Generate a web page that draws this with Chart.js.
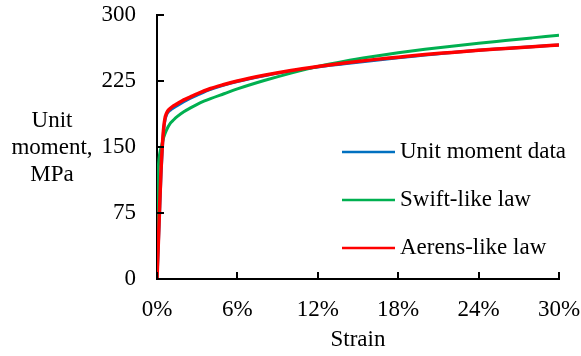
<!DOCTYPE html>
<html>
<head>
<meta charset="utf-8">
<script src="https://cdn.jsdelivr.net/npm/chart.js@4/dist/chart.umd.min.js"></script>
<style>
  html, body { margin: 0; padding: 0; background: #fff; }
  #wrap { width: 581px; height: 356px; position: relative; }
</style>
</head>
<body>
<div id="wrap"><canvas id="momentChart"></canvas></div>
<script>
// strain in %, unit moment in MPa
const dataStrain = [0, 0.1, 0.2, 0.3, 0.4, 0.5, 0.6, 0.7, 0.8, 1.0, 1.25, 1.5, 2, 2.5, 3, 4, 5, 6, 8, 10, 12, 14, 16, 18, 20, 22, 24, 26, 28, 30];
const dataMoment = [0, 38, 78, 118, 148, 170, 181, 186, 189, 192, 194.5, 197, 201.5, 205.5, 209, 215.5, 220.5, 224.5, 231, 236.5, 241, 244.5, 248, 251.5, 254.5, 257.5, 260, 262, 264, 266];

const swiftStrain = [0, 0.02, 0.05, 0.1, 0.2, 0.35, 0.5, 0.7, 1.0, 1.25, 1.5, 2, 2.5, 3, 3.5, 4, 5, 6, 8, 10, 12, 14, 16, 18, 20, 22, 24, 26, 28, 30];
const swiftMoment = [0, 60, 110, 128, 142, 152, 161, 169, 177, 181, 184.5, 190, 194.5, 198.5, 202, 205, 210.5, 216, 225.5, 234, 241.5, 247.5, 252.5, 257, 261, 264.5, 268, 271, 274, 277];

const aerensStrain = [0, 0.1, 0.2, 0.3, 0.4, 0.5, 0.6, 0.7, 0.8, 1.0, 1.25, 1.5, 2, 2.5, 3, 4, 5, 6, 8, 10, 12, 14, 16, 18, 20, 22, 24, 26, 28, 30];
const aerensMoment = [0, 41, 83, 124, 152, 172, 183, 188, 191, 194, 197, 199, 203.5, 207, 210.5, 216.5, 221, 225, 231.5, 237, 241.5, 245.5, 249, 252, 255, 257.5, 260, 262, 264, 266];

const xTicks = [0, 6, 12, 18, 24, 30];
const yTicks = [0, 75, 150, 225, 300];
const yTitleLines = ['Unit', 'moment,', 'MPa'];

const FONT = '"Liberation Serif", "Times New Roman", serif';

const toPoints = (xs, ys) => xs.map((x, i) => ({ x, y: ys[i] }));

// tick marks pointing into the plot, the multi-line y title and the inset legend
const decorPlugin = {
    id: 'decor',
    afterDraw(chart) {
        const ctx = chart.ctx;
        const xs = chart.scales.x;
        const ys = chart.scales.y;
        const area = chart.chartArea;
        ctx.save();
        ctx.strokeStyle = '#000';
        ctx.lineWidth = 2;
        xTicks.forEach(v => {
            const px = Math.round(xs.getPixelForValue(v));
            ctx.beginPath();
            ctx.moveTo(px, area.bottom);
            ctx.lineTo(px, area.bottom - 7);
            ctx.stroke();
        });
        yTicks.forEach(v => {
            const py = Math.round(ys.getPixelForValue(v));
            ctx.beginPath();
            ctx.moveTo(area.left, py);
            ctx.lineTo(area.left + 7, py);
            ctx.stroke();
        });

        ctx.fillStyle = '#000';
        ctx.font = `23px ${FONT}`;
        ctx.textAlign = 'center';
        ctx.textBaseline = 'middle';
        yTitleLines.forEach((t, i) => ctx.fillText(t, 52, 121 + i * 27));

        ctx.textAlign = 'left';
        chart.data.datasets.forEach((ds, i) => {
            const y = 152 + i * 48;
            ctx.strokeStyle = ds.borderColor;
            ctx.lineWidth = 2.5;
            ctx.beginPath();
            ctx.moveTo(342, y);
            ctx.lineTo(395, y);
            ctx.stroke();
            ctx.fillText(ds.label, 400, y);
        });
        ctx.restore();
    }
};

new Chart(document.getElementById('momentChart'), {
    type: 'line',
    data: {
        datasets: [
            { label: 'Unit moment data', data: toPoints(dataStrain, dataMoment), borderColor: '#0070C0', borderWidth: 3, order: 3 },
            { label: 'Swift-like law', data: toPoints(swiftStrain, swiftMoment), borderColor: '#00B050', borderWidth: 3, order: 2 },
            { label: 'Aerens-like law', data: toPoints(aerensStrain, aerensMoment), borderColor: '#FF0000', borderWidth: 3.5, order: 1 }
        ]
    },
    options: {
        responsive: true,
        maintainAspectRatio: false,
        animation: false,
        devicePixelRatio: 1,
        layout: { autoPadding: false, padding: { top: 15, right: 22, left: 0, bottom: 0 } },
        elements: {
            point: { radius: 0 },
            line: { cubicInterpolationMode: 'monotone', fill: false }
        },
        plugins: { legend: { display: false }, tooltip: { enabled: false } },
        scales: {
            x: {
                type: 'linear',
                min: 0,
                max: 30,
                afterBuildTicks: s => { s.ticks = xTicks.map(v => ({ value: v })); },
                afterFit: s => { s.height = 77; s.paddingLeft = 0; s.paddingRight = 0; },
                grid: { display: false, drawTicks: false },
                border: { display: true, color: '#000', width: 2 },
                ticks: { color: '#000', font: { family: FONT, size: 23 }, padding: 17, callback: v => v + '%' },
                title: { display: true, text: 'Strain', color: '#000', font: { family: FONT, size: 23 }, padding: { top: 0, bottom: 2 } }
            },
            y: {
                min: 0,
                max: 300,
                afterBuildTicks: s => { s.ticks = yTicks.map(v => ({ value: v })); },
                afterFit: s => { s.width = 157; s.paddingTop = 0; s.paddingBottom = 0; },
                grid: { display: false, drawTicks: false },
                border: { display: true, color: '#000', width: 2 },
                ticks: { color: '#000', font: { family: FONT, size: 23 }, padding: 21 }
            }
        }
    },
    plugins: [decorPlugin]
});
</script>
</body>
</html>
